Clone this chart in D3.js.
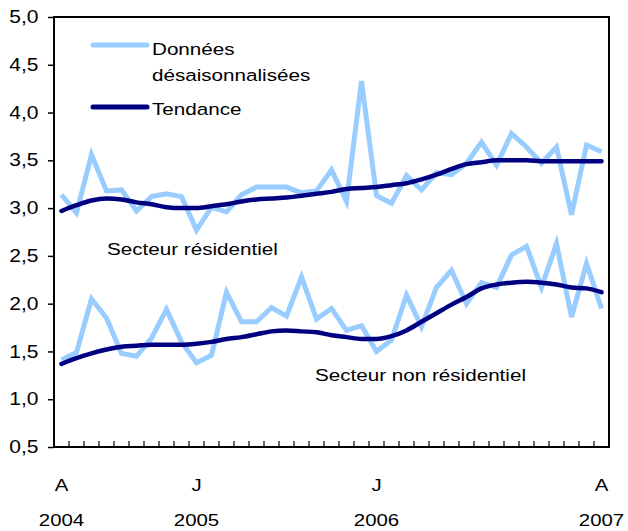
<!DOCTYPE html>
<html>
<head>
<meta charset="utf-8">
<script src="https://cdn.jsdelivr.net/npm/d3@7"></script>
<style>
  body { margin: 0; background: #fff; }
  svg text { font-family: "Liberation Sans", Arial, sans-serif; fill: #000; }
</style>
</head>
<body>
<svg id="chart" width="628" height="531"></svg>
<script>
// months, April 2004 to April 2007
const months = [
  "2004-04","2004-05","2004-06","2004-07","2004-08","2004-09","2004-10","2004-11","2004-12",
  "2005-01","2005-02","2005-03","2005-04","2005-05","2005-06","2005-07","2005-08","2005-09",
  "2005-10","2005-11","2005-12","2006-01","2006-02","2006-03","2006-04","2006-05","2006-06",
  "2006-07","2006-08","2006-09","2006-10","2006-11","2006-12","2007-01","2007-02","2007-03",
  "2007-04"
];

const resData = [3.14, 2.95, 3.56, 3.18, 3.19, 2.97, 3.12, 3.15, 3.12, 2.77, 3.01, 2.96, 3.14,
  3.22, 3.22, 3.22, 3.16, 3.18, 3.40, 3.07, 4.33, 3.13, 3.05, 3.34, 3.19, 3.37, 3.35, 3.47,
  3.69, 3.45, 3.78, 3.64, 3.47, 3.64, 2.93, 3.66, 3.59];
const resTrend = [2.97, 3.03, 3.08, 3.10, 3.09, 3.06, 3.04, 3.01, 3.00, 3.00, 3.02, 3.04, 3.07,
  3.09, 3.10, 3.11, 3.13, 3.15, 3.17, 3.20, 3.21, 3.22, 3.24, 3.26, 3.30, 3.35, 3.41, 3.46,
  3.48, 3.50, 3.50, 3.50, 3.49, 3.49, 3.49, 3.49, 3.49];
const nonResData = [1.41, 1.49, 2.05, 1.85, 1.48, 1.45, 1.64, 1.94, 1.60, 1.38, 1.46, 2.12, 1.81,
  1.81, 1.96, 1.87, 2.28, 1.84, 1.95, 1.72, 1.77, 1.50, 1.62, 2.09, 1.76, 2.17, 2.35, 2.00,
  2.22, 2.17, 2.51, 2.60, 2.17, 2.63, 1.86, 2.42, 1.95];
const nonResTrend = [1.37, 1.43, 1.48, 1.52, 1.55, 1.56, 1.57, 1.57, 1.57, 1.58, 1.60, 1.63, 1.65,
  1.68, 1.71, 1.72, 1.71, 1.70, 1.67, 1.65, 1.63, 1.63, 1.66, 1.72, 1.81, 1.90, 1.99, 2.07,
  2.16, 2.20, 2.22, 2.23, 2.22, 2.20, 2.17, 2.16, 2.12];

const yTicks = [0.5, 1.0, 1.5, 2.0, 2.5, 3.0, 3.5, 4.0, 4.5, 5.0];
const monthTickKeys = ["2004-04", "2005-01", "2006-01", "2007-04"];
const monthTickLetters = ["A", "J", "J", "A"];
const yearLabels = ["2004", "2005", "2006", "2007"];

const margin = {top: 17, left: 54, right: 19, bottom: 84};
const width = 628 - margin.left - margin.right;
const height = 531 - margin.top - margin.bottom;
const stretch = 1.2; // the source type is set wide

const svg = d3.select("#chart");
const g = svg.append("g").attr("transform", `translate(${margin.left},${margin.top})`);

const x = d3.scaleBand().domain(months).range([0, width]).padding(0);
const y = d3.scaleLinear().domain([0.5, 5]).range([height, 0]);
const cx = m => x(m) + x.bandwidth() / 2;

const fr = d3.formatLocale({decimal: ",", thousands: " ", grouping: [3], currency: ["", "$"]});
const fmt = fr.format(".1f");

// wide text helper
function label(parent, px, py, str, size, anchor) {
  return parent.append("text")
    .attr("transform", `translate(${px},${py}) scale(${stretch},1)`)
    .attr("text-anchor", anchor || "start")
    .style("font-size", size + "px")
    .text(str);
}

// y axis
const yAxis = g.append("g")
  .call(d3.axisLeft(y).tickValues(yTicks).tickFormat(fmt).tickSize(6).tickSizeOuter(0));
yAxis.select(".domain").remove();
yAxis.selectAll("line").attr("stroke", "#000").attr("stroke-width", 1.5);
yAxis.selectAll("text")
  .attr("x", -13)
  .attr("transform", `scale(${stretch},1)`)
  .style("font-size", "17.5px")
  .style("font-family", "Liberation Sans, Arial, sans-serif");

// x ticks on band boundaries, pointing inward
const boundaries = months.slice(1);
g.append("g").selectAll("line")
  .data(boundaries)
  .enter()
  .append("line")
  .attr("x1", d => x(d)).attr("x2", d => x(d))
  .attr("y1", height).attr("y2", height - 6)
  .attr("stroke", "#000").attr("stroke-width", 1.2);

// frame
g.append("rect")
  .attr("x", 0).attr("y", 0).attr("width", width).attr("height", height)
  .attr("fill", "none").attr("stroke", "#000").attr("stroke-width", 2);

// month letters and years
monthTickKeys.forEach((m, i) => {
  label(g, cx(m), height + 44, monthTickLetters[i], 17, "middle");
  label(g, cx(m), height + 79, yearLabels[i], 17, "middle");
});

const lightBlue = "#99ccff";
const navy = "#000080";

const rawLine = d3.line().x((d, i) => cx(months[i])).y(d => y(d));
const trendLine = d3.line().x((d, i) => cx(months[i])).y(d => y(d)).curve(d3.curveMonotoneX);

[resData, nonResData].forEach(s => {
  g.append("path").datum(s).attr("d", rawLine)
    .attr("fill", "none").attr("stroke", lightBlue).attr("stroke-width", 5);
});
[resTrend, nonResTrend].forEach(s => {
  g.append("path").datum(s).attr("d", trendLine)
    .attr("fill", "none").attr("stroke", navy).attr("stroke-width", 4.5)
    .attr("stroke-linecap", "round");
});

// legend
const lg = svg.append("g");
lg.append("line").attr("x1", 93).attr("x2", 147).attr("y1", 45).attr("y2", 45)
  .attr("stroke", lightBlue).attr("stroke-width", 5).attr("stroke-linecap", "round");
label(lg, 152, 55, "Données", 17.2);
label(lg, 152, 81, "désaisonnalisées", 17.2);
lg.append("line").attr("x1", 93).attr("x2", 147).attr("y1", 107).attr("y2", 107)
  .attr("stroke", navy).attr("stroke-width", 5).attr("stroke-linecap", "round");
label(lg, 152, 115, "Tendance", 17.2);

// series annotations
label(svg, 107, 255, "Secteur résidentiel", 17.2);
label(svg, 315, 381, "Secteur non résidentiel", 17.2);
</script>
</body>
</html>
